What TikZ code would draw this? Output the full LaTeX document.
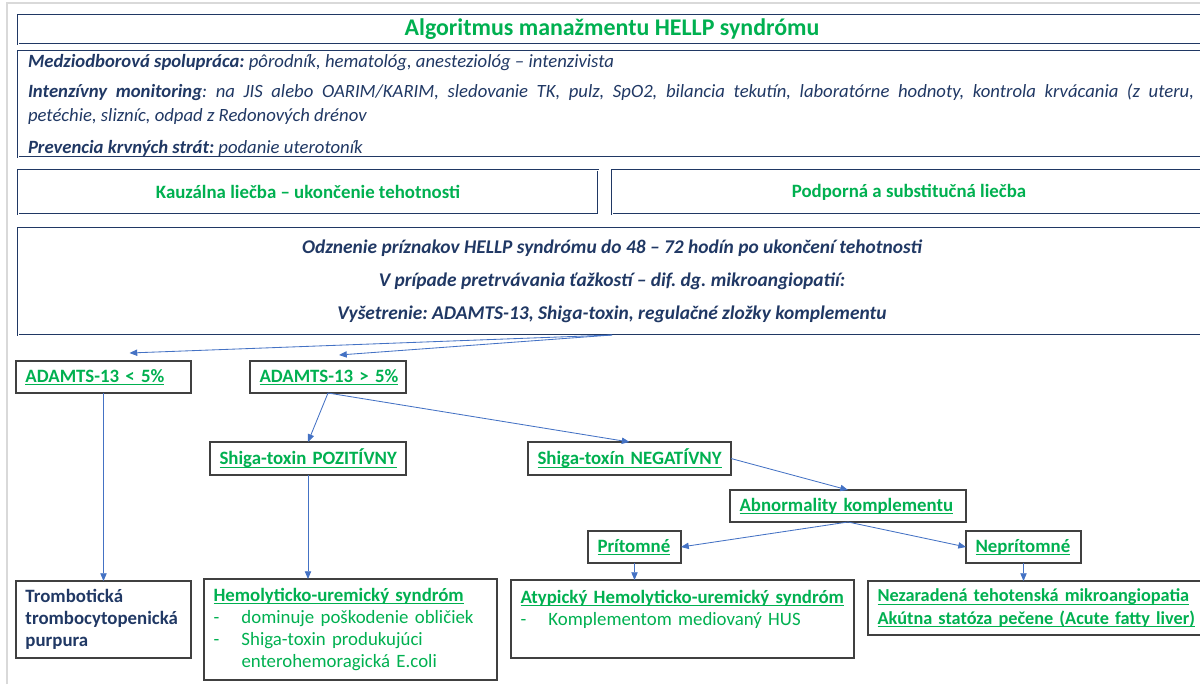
\documentclass[tikz,border=0pt]{standalone}
\usepackage{fontspec}
\setmainfont{Carlito}
\usepackage{tikz}
\usetikzlibrary{positioning, arrows.meta, calc}
\definecolor{navyblue}{RGB}{32, 56, 100}
\definecolor{hellpgreen}{RGB}{0, 176, 80}
\definecolor{linkblue}{RGB}{68, 114, 196}
\definecolor{framegray}{RGB}{64, 64, 64}
\definecolor{pagegray}{RGB}{217, 217, 217}
\newlength\pxu
\setlength\pxu{0.025cm}
\newcommand\grul[1]{\leavevmode\setbox0\hbox{#1}\rlap{\rule[-2pt]{\wd0}{0.8pt}}\box0}
\newcommand\dashitem{\makebox[28\pxu][l]{-}}
\newcommand\sizetitle{\fontsize{17}{20}\selectfont}
\newcommand\sizeinfo{\fontsize{13.3}{15.7}\selectfont}
\newcommand\sizebox{\fontsize{13.4}{15.7}\selectfont}
\newcommand\sizerelief{\fontsize{13.8}{15.7}\selectfont}
\frenchspacing

\begin{document}
\begin{tikzpicture}[x=0.025cm, y=-0.025cm, >={Triangle[length=5.5pt, width=4.5pt]},
    every node/.style={inner sep=0pt, outer sep=0pt},
    widebox/.style={draw=navyblue, line width=0.45pt, double=white, double distance=0.6pt, anchor=north west, align=center},
    infotext/.style={anchor=base west, text=navyblue, font=\sizeinfo\itshape},
    leafbox/.style={draw=framegray, line width=0.75pt, anchor=north west, inner xsep=9.5\pxu, align=left, text=hellpgreen, font=\sizebox\bfseries},
    flow/.style={->, draw=linkblue, line width=0.6pt}]
    \useasboundingbox (0,0) rectangle (1200,684);
    \clip (0,0) rectangle (1200,684);
    \draw[pagegray, line width=1pt] (7,684) -- (7,3) -- (1200,3);

    % Header: title and general care
    \node[widebox, minimum width=1188\pxu, minimum height=29\pxu, text=hellpgreen, font=\sizetitle\bfseries] (title) at (18,15) {Algoritmus manažmentu HELLP syndrómu};
    \node[widebox, minimum width=1188\pxu, minimum height=106\pxu] (care) at (18,51) {};
    \node[infotext] (team) at (28,67) {\textbf{Medziodborová spolupráca:} pôrodník, hematológ, anesteziológ – intenzivista};
    \node[infotext] (watch) at (28,97) {\makebox[1166\pxu][s]{\textbf{Intenzívny monitoring}: na JIS alebo OARIM/KARIM, sledovanie TK, pulz, SpO2, bilancia tekutín, laboratórne hodnoty, kontrola krvácania (z uteru,}};
    \node[infotext] (watchrest) at (28,121) {petéchie, slizníc, odpad z Redonových drénov};
    \node[infotext] (prevent) at (28,153) {\textbf{Prevencia krvných strát:} podanie uterotoník};

    % Treatment
    \node[widebox, minimum width=580\pxu, minimum height=44\pxu, text=hellpgreen, font=\sizebox\bfseries] (causal) at (18,170) {Kauzálna liečba – ukončenie tehotnosti};
    \node[widebox, minimum width=594\pxu, minimum height=44\pxu, text=hellpgreen, font=\sizebox\bfseries] (support) at (612,170) {Podporná a substitučná liečba};
    \node[widebox, minimum width=1188\pxu, minimum height=107\pxu, text=navyblue, font=\sizerelief\bfseries\itshape] (relief) at (18,228) {
        Odznenie príznakov HELLP syndrómu do 48 – 72 hodín po ukončení tehotnosti\\[7.8pt]
        V prípade pretrvávania ťažkostí – dif. dg. mikroangiopatií:\\[7.8pt]
        Vyšetrenie: ADAMTS-13, Shiga-toxin, regulačné zložky komplementu
    };

    % Differential diagnosis
    \node[leafbox, text width=156\pxu, minimum height=32\pxu] (lt5) at (16,361) {\grul{ADAMTS-13 < 5\%}};
    \node[leafbox, text width=137\pxu, minimum height=32\pxu] (gt5) at (250,361) {\grul{ADAMTS-13 > 5\%}};
    \node[leafbox, text width=177\pxu, minimum height=33\pxu] (pos) at (210,442) {\grul{Shiga-toxin POZITÍVNY}};
    \node[leafbox, text width=184\pxu, minimum height=33\pxu] (neg) at (528,442) {\grul{Shiga-toxín NEGATÍVNY}};
    \node[leafbox, text width=217\pxu, minimum height=32\pxu] (abn) at (730,490) {\grul{Abnormality komplementu}};
    \node[leafbox, text width=74\pxu, minimum height=32\pxu] (pres) at (588,531) {\grul{Prítomné}};
    \node[leafbox, text width=96\pxu, minimum height=32\pxu] (abs) at (966,531) {\grul{Neprítomné}};

    % Diagnoses
    \node[leafbox, text width=156\pxu, minimum height=77\pxu, text=navyblue] (tromb) at (16,581) {Trombotická\\ trombocytopenická\\ purpura};
    \node[leafbox, text width=274\pxu, minimum height=101\pxu] (hemo) at (204,579) {
        \grul{Hemolyticko-uremický syndróm}\\
        {\mdseries\dashitem dominuje poškodenie obličiek}\\
        {\mdseries\dashitem Shiga-toxin produkujúci}\\
        {\mdseries\hspace*{28\pxu}enterohemoragická E.coli}
    };
    \node[leafbox, text width=324\pxu, minimum height=78\pxu] (atyp) at (511,580) {
        \grul{Atypický Hemolyticko-uremický syndróm}\\
        {\mdseries\dashitem Komplementom mediovaný HUS}\\
        \mbox{}
    };
    \node[leafbox, text width=326\pxu, minimum height=54\pxu, font=\fontsize{13}{15.7}\selectfont\bfseries] (nez) at (868,581) {
        \grul{Nezaradená tehotenská mikroangiopatia}\\
        \grul{Akútna statóza pečene (Acute fatty liver)}
    };

    % Arrows
    \coordinate (lt5tip) at ($(lt5.north)+(26,-8)$);
    \coordinate (gt5tip) at ($(gt5.north)+(11,-6)$);
    \draw[flow] (relief.south) -- (lt5tip);
    \draw[flow] (relief.south) -- (gt5tip);
    \draw[flow] (lt5) -- (tromb);
    \draw[flow] (gt5.south) -- (pos.north);
    \draw[flow] (gt5.south) -- (neg.north);
    \draw[flow] (pos.south) -- (pos.south |- hemo.north);
    \draw[flow] (neg.east) -- (abn.north);
    \draw[flow] (abn.south) -- (pres.east);
    \draw[flow] (abn.south) -- (abs.west);
    \draw[flow] (pres.south) -- (pres.south |- atyp.north);
    \draw[flow] (abs.south) -- (abs.south |- nez.north);
\end{tikzpicture}
\end{document}
